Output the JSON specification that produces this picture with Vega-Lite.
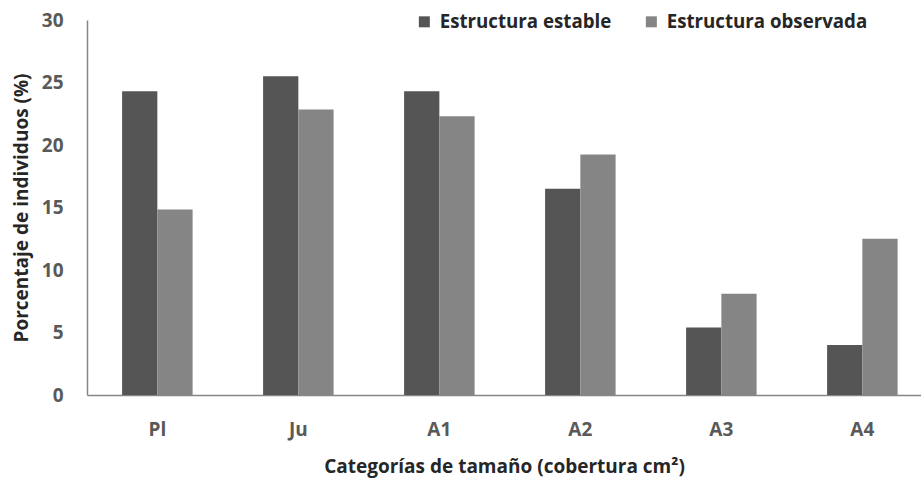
{
  "$schema": "https://vega.github.io/schema/vega-lite/v6.json",
  "autosize": {"type": "none"},
  "width": 834,
  "height": 375,
  "padding": {"left": 87, "top": 20, "right": 0, "bottom": 83},
  "background": "white",
  "config": {
    "view": {"stroke": null},
    "font": "Open Sans",
    "axis": {"grid": false, "ticks": false, "domainColor": "#868686", "domainWidth": 1.5}
  },
  "data": {
    "values": [
      {"categoria": "Pl", "serie": "Estructura estable", "porcentaje": 24.3},
      {"categoria": "Pl", "serie": "Estructura observada", "porcentaje": 14.85},
      {"categoria": "Ju", "serie": "Estructura estable", "porcentaje": 25.5},
      {"categoria": "Ju", "serie": "Estructura observada", "porcentaje": 22.85},
      {"categoria": "A1", "serie": "Estructura estable", "porcentaje": 24.3},
      {"categoria": "A1", "serie": "Estructura observada", "porcentaje": 22.3},
      {"categoria": "A2", "serie": "Estructura estable", "porcentaje": 16.5},
      {"categoria": "A2", "serie": "Estructura observada", "porcentaje": 19.25},
      {"categoria": "A3", "serie": "Estructura estable", "porcentaje": 5.4},
      {"categoria": "A3", "serie": "Estructura observada", "porcentaje": 8.1},
      {"categoria": "A4", "serie": "Estructura estable", "porcentaje": 4.0},
      {"categoria": "A4", "serie": "Estructura observada", "porcentaje": 12.5}
    ]
  },
  "mark": {"type": "bar"},
  "encoding": {
    "x": {
      "field": "categoria",
      "type": "nominal",
      "sort": ["Pl", "Ju", "A1", "A2", "A3", "A4"],
      "scale": {"paddingInner": 0.5, "paddingOuter": 0.2074, "align": 0.6},
      "axis": {
        "title": "Categorías de tamaño (cobertura cm²)",
        "labelAngle": 0,
        "labelFontSize": 19,
        "labelFontWeight": "bold",
        "labelColor": "#595959",
        "labelPadding": 25,
        "titleFontSize": 19,
        "titleFontWeight": "bold",
        "titleColor": "#262626",
        "titlePadding": 18
      }
    },
    "xOffset": {
      "field": "serie",
      "type": "nominal",
      "sort": ["Estructura estable", "Estructura observada"]
    },
    "y": {
      "field": "porcentaje",
      "type": "quantitative",
      "scale": {"domain": [0, 30]},
      "axis": {
        "title": "Porcentaje de individuos (%)",
        "values": [0, 5, 10, 15, 20, 25, 30],
        "labelFontSize": 19,
        "labelFontWeight": "bold",
        "labelColor": "#595959",
        "labelPadding": 24,
        "titleFontSize": 19,
        "titleFontWeight": "bold",
        "titleColor": "#262626",
        "titlePadding": 10
      }
    },
    "color": {
      "field": "serie",
      "type": "nominal",
      "sort": ["Estructura estable", "Estructura observada"],
      "scale": {"range": ["#555555", "#858585"]},
      "legend": {
        "title": null,
        "orient": "none",
        "direction": "horizontal",
        "legendX": 328,
        "legendY": -8,
        "symbolType": "square",
        "symbolSize": 121,
        "symbolStrokeWidth": 0,
        "labelFontSize": 18.7,
        "labelFontWeight": "bold",
        "labelColor": "#262626",
        "labelOffset": 6,
        "labelLimit": 400,
        "columnPadding": 30
      }
    }
  }
}
